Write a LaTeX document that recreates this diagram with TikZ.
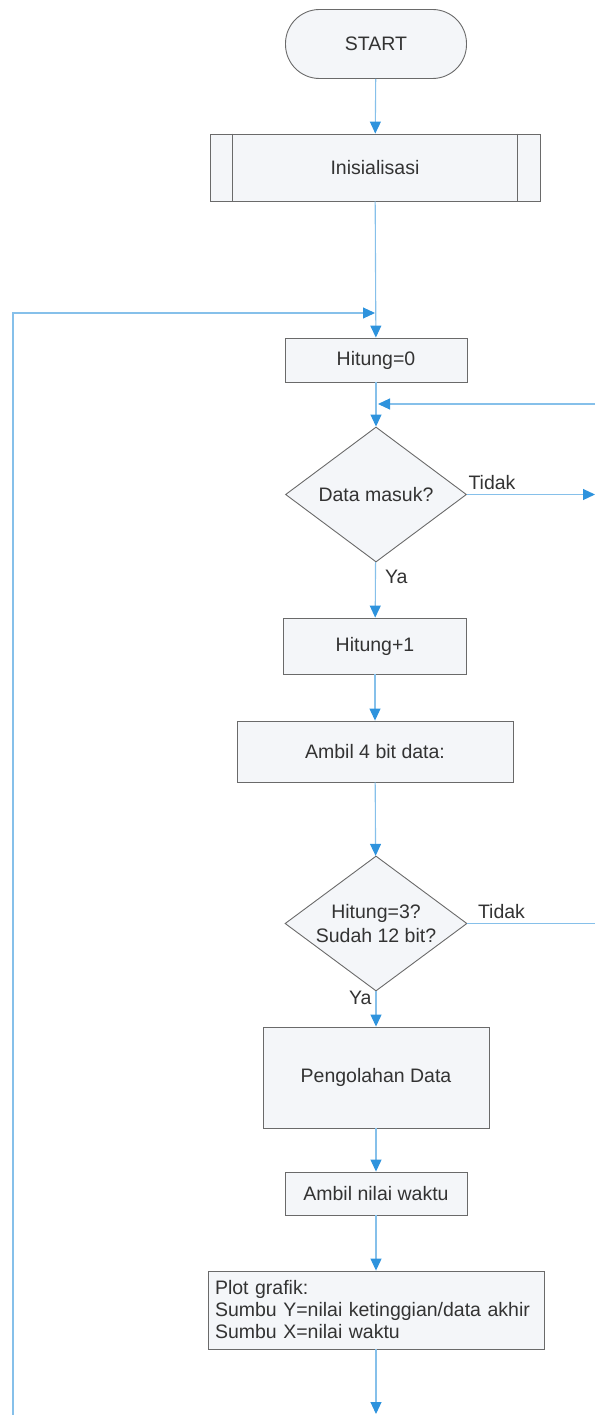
\documentclass[tikz,border=0pt]{standalone}
\usepackage{fontspec}
\setmainfont{Liberation Sans}
\usetikzlibrary{shapes.geometric,arrows.meta}
\definecolor{linkblue}{HTML}{86C0EA}
\definecolor{tipblue}{HTML}{2E93DD}
\definecolor{boxline}{HTML}{6A6A6A}
\definecolor{boxfill}{HTML}{F4F6F9}
\definecolor{txt}{HTML}{333333}

\begin{document}
\begin{tikzpicture}[x=1pt,y=-1pt,
    font=\fontsize{19.5}{24}\selectfont, text=txt,
    box/.style={draw=boxline,fill=boxfill,line width=0.9pt,inner sep=0pt},
    stepbox/.style={box,rectangle},
    decision/.style={box,diamond,aspect=1.35},
    terminal/.style={box,rounded corners=34pt},
    flow/.style={draw=linkblue,line width=1.1pt},
    arr/.style={flow,-{Triangle[width=11pt,length=12pt,color=tipblue]}},
    lbl/.style={inner sep=1pt}]
      \useasboundingbox (0,0) rectangle (595,1415);
      % blocks
      \node[terminal,minimum width=181pt,minimum height=69pt] (start) at (376,44) {START};
      \node[stepbox,minimum width=330pt,minimum height=67pt] (init) at (375,167.5) {Inisialisasi};
      \draw[boxline,line width=0.9pt] ([xshift=23pt]init.north west) -- ([xshift=23pt]init.south west)
        ([xshift=-23pt]init.north east) -- ([xshift=-23pt]init.south east);
      \node[stepbox,minimum width=182pt,minimum height=44pt] (nol) at (376,360) {Hitung=0};
      \node[decision,minimum width=181pt,minimum height=135pt] (masuk) at (376,494.5) {Data masuk?};
      \node[stepbox,minimum width=183pt,minimum height=56pt] (tambah) at (375,646) {Hitung+1};
      \node[stepbox,minimum width=276pt,minimum height=61pt] (ambil) at (375,751.5) {Ambil 4 bit data:};
      \node[decision,minimum width=182pt,minimum height=135pt,align=center] (cek) at (376,923.5) {Hitung=3?\\Sudah 12 bit?};
      \node[stepbox,minimum width=226pt,minimum height=101pt] (olah) at (376,1077.5) {Pengolahan Data};
      \node[stepbox,minimum width=182pt,minimum height=43pt] (waktu) at (376,1193.5) {Ambil nilai waktu};
      \node[stepbox,minimum height=78pt,text width=322pt,inner xsep=7pt,align=left,
        font=\fontsize{19.5}{22}\selectfont] (plot) at (376,1310)
        {Plot grafik:\\Sumbu Y=nilai ketinggian/data akhir\\Sumbu X=nilai waktu};
      % main line
      \draw[arr] (start) -- (init);
      \draw[arr] (init) -- (nol);
      \draw[arr] (nol) -- (masuk);
      \draw[arr] (masuk) -- node[lbl,pos=0.27,right,xshift=8pt] {Ya} (tambah);
      \draw[arr] (tambah) -- (ambil);
      \draw[arr] (ambil) -- (cek);
      \draw[arr] (cek) -- node[lbl,pos=0.17,left,xshift=-3pt] {Ya} (olah);
      \draw[arr] (olah) -- (waktu);
      \draw[arr] (waktu) -- (plot);
      \coordinate (bawah) at (376,1414);
      \draw[arr] (plot) -- (bawah);
      % loops at the sides
      \coordinate (kiri) at (13,1415);
      \coordinate (kembali) at (375,313);
      \draw[arr] (kiri) |- (kembali);
      \coordinate (kanan) at (595,404);
      \coordinate (gabung) at (378,404);
      \draw[arr] (kanan) -- (gabung);
      \coordinate (keluar) at (595,494.5);
      \draw[arr] (masuk.east) -- node[lbl,pos=0,above right,yshift=3pt] {Tidak} (keluar);
      \coordinate (lanjut) at (595,923.5);
      \draw[flow] (cek.east) -- node[lbl,pos=0,above right,xshift=9pt,yshift=3pt] {Tidak} (lanjut);
    \end{tikzpicture}
\end{document}
